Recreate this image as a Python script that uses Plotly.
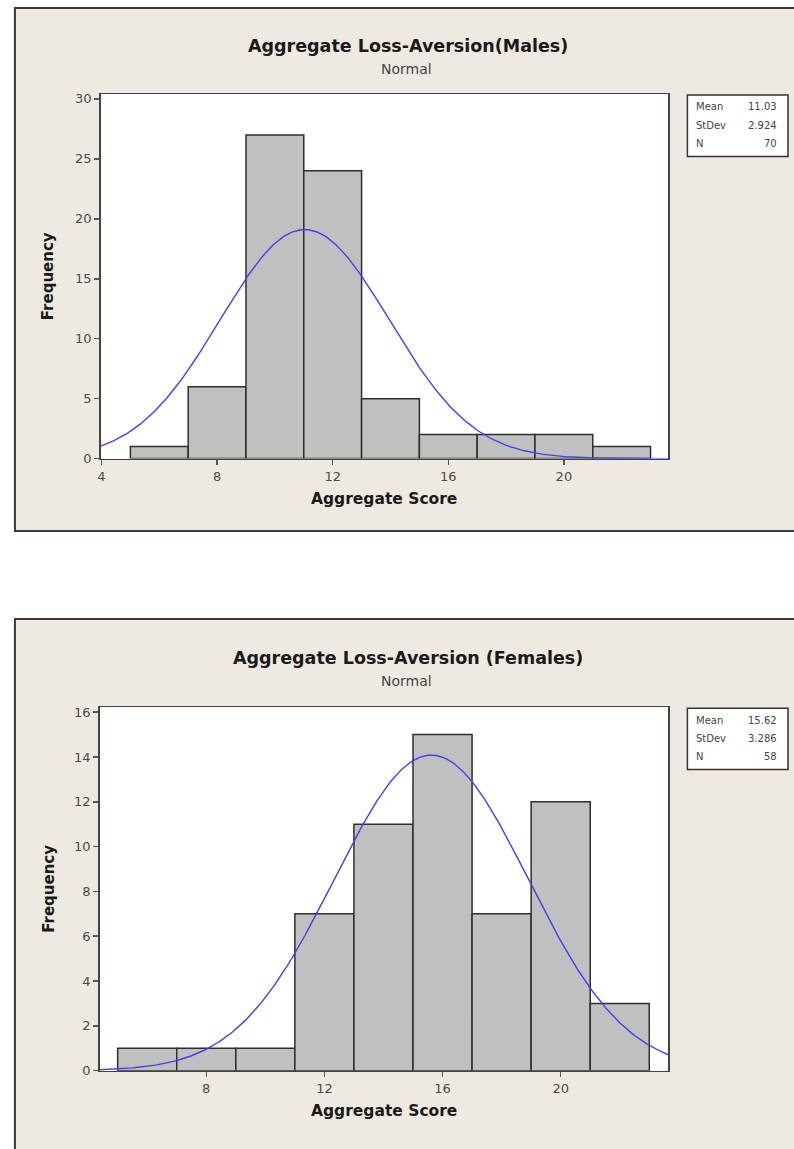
import numpy as np
import plotly.graph_objects as go

# ---------------- data ----------------
bin_left = [5, 7, 9, 11, 13, 15, 17, 19, 21]
bin_width = 2
male_counts = [1, 6, 27, 24, 5, 2, 2, 2, 1]
female_counts = [1, 1, 1, 7, 11, 15, 7, 12, 3]
male_stats = {"Mean": 11.03, "StDev": 2.924, "N": 70}
female_stats = {"Mean": 15.62, "StDev": 3.286, "N": 58}
male_title = "Aggregate Loss-Aversion(Males)"
female_title = "Aggregate Loss-Aversion (Females)"
male_xticks = [4, 8, 12, 16, 20]
female_xticks = [8, 12, 16, 20]
male_yticks = [0, 5, 10, 15, 20, 25, 30]
female_yticks = [0, 2, 4, 6, 8, 10, 12, 14, 16]

W, H = 794, 1149
FONT = "DejaVu Sans"
BEIGE = "#EFEAE1"

def px(x):
    return x / W

def py(y):
    return 1 - y / H

fig = go.Figure()

def normal_curve(stats, xr):
    xs = np.linspace(xr[0], xr[1], 400)
    m, s, n = stats["Mean"], stats["StDev"], stats["N"]
    ys = n * bin_width / (s * np.sqrt(2 * np.pi)) * np.exp(-0.5 * ((xs - m) / s) ** 2)
    return xs, ys

panels = [
    dict(counts=male_counts, stats=male_stats, title=male_title, xr=[3.97, 23.62], yr=[0, 30.4],
         xticks=male_xticks, yticks=male_yticks, plot=(98, 668, 92, 460), box=(12, 5, 820, 533),
         title_y=43, sub_y=67, xlab_y=501, leg=(687, 93, 788, 155), ax="", ),
    dict(counts=female_counts, stats=female_stats, title=female_title, xr=[4.39, 23.65], yr=[0, 16.22],
         xticks=female_xticks, yticks=female_yticks, plot=(97, 668, 711, 1078), box=(12, 622, 820, 1170),
         title_y=661, sub_y=685, xlab_y=1119, leg=(687, 712, 788, 774), ax="2"),
]

shapes = []
annotations = []
layout_axes = {}

for p in panels:
    ax = p["ax"]
    xa, ya = "x" + ax, "y" + ax
    bx0, by0, bx1, by1 = p["box"]
    shapes.append(dict(type="rect", xref="paper", yref="paper", x0=px(bx0), x1=px(bx1),
                       y0=py(by1), y1=py(by0), fillcolor=BEIGE, line=dict(color="#3a3a3a", width=2),
                       layer="below"))
    x0, x1, y0, y1 = p["plot"]
    shapes.append(dict(type="rect", xref="paper", yref="paper", x0=px(x0), x1=px(x1),
                       y0=py(y1), y1=py(y0), fillcolor="white", line=dict(width=0), layer="below"))
    fig.add_trace(go.Bar(x=bin_left, y=p["counts"], width=bin_width, offset=0,
                         marker=dict(color="#C0C0C0", line=dict(color="#2e2e2e", width=1.5)),
                         xaxis=xa, yaxis=ya, showlegend=False, hoverinfo="skip"))
    cx, cy = normal_curve(p["stats"], p["xr"])
    fig.add_trace(go.Scatter(x=cx, y=cy, mode="lines", line=dict(color="#4040F0", width=1.4),
                             xaxis=xa, yaxis=ya, showlegend=False, cliponaxis=True, hoverinfo="skip"))
    tf = dict(family=FONT, size=13, color="#4a4a4a")
    layout_axes["xaxis" + ax] = dict(domain=[px(x0), px(x1)], range=p["xr"], anchor=ya,
                                     tickvals=p["xticks"], ticks="outside", ticklen=5, tickwidth=1.5,
                                     tickcolor="#555", showline=True, linecolor="#444", linewidth=1.5,
                                     mirror=True, showgrid=False, zeroline=False, tickfont=tf)
    layout_axes["yaxis" + ax] = dict(domain=[py(y1), py(y0)], range=p["yr"], anchor=xa,
                                     tickvals=p["yticks"], ticks="outside", ticklen=5, tickwidth=1.5,
                                     tickcolor="#555", showline=True, linecolor="#444", linewidth=1.5,
                                     mirror=True, showgrid=False, zeroline=False, tickfont=tf)
    annotations.append(dict(text="<b>" + p["title"] + "</b>", x=px(407), y=py(p["title_y"]),
                            xref="paper", yref="paper", showarrow=False,
                            font=dict(family=FONT, size=17.5, color="#1a1a1a"), xanchor="center", yanchor="middle"))
    annotations.append(dict(text="Normal", x=px(405), y=py(p["sub_y"]), xref="paper", yref="paper",
                            showarrow=False, font=dict(family=FONT, size=14, color="#444"),
                            xanchor="center", yanchor="middle"))
    annotations.append(dict(text="<b>Aggregate Score</b>", x=px(382), y=py(p["xlab_y"]), xref="paper",
                            yref="paper", showarrow=False, font=dict(family=FONT, size=15.5, color="#1a1a1a"),
                            xanchor="center", yanchor="middle"))
    annotations.append(dict(text="<b>Frequency</b>", x=px(46), y=py((y0 + y1) / 2), xref="paper",
                            yref="paper", showarrow=False, textangle=-90,
                            font=dict(family=FONT, size=15, color="#1a1a1a"), xanchor="center", yanchor="middle"))
    lx0, ly0, lx1, ly1 = p["leg"]
    shapes.append(dict(type="rect", xref="paper", yref="paper", x0=px(lx0), x1=px(lx1),
                       y0=py(ly1), y1=py(ly0), fillcolor="white", line=dict(color="#333", width=1.5)))
    rows = [("Mean", f"{p['stats']['Mean']:.2f}"), ("StDev", f"{p['stats']['StDev']:.3f}"),
            ("N", str(p["stats"]["N"]))]
    for i, (k, v) in enumerate(rows):
        yy = ly0 + 12 + i * 18.5
        annotations.append(dict(text=k, x=px(lx0 + 7), y=py(yy), xref="paper", yref="paper",
                                showarrow=False, xanchor="left", yanchor="middle",
                                font=dict(family=FONT, size=10, color="#444")))
        annotations.append(dict(text=v, x=px(lx1 - 9), y=py(yy), xref="paper", yref="paper",
                                showarrow=False, xanchor="right", yanchor="middle",
                                font=dict(family=FONT, size=10, color="#444")))

fig.update_layout(width=W, height=H, margin=dict(l=0, r=0, t=0, b=0), paper_bgcolor="white",
                  plot_bgcolor="rgba(0,0,0,0)", shapes=shapes, annotations=annotations, bargap=0,
                  hovermode=False, **layout_axes)
fig.write_html("out.html", config={"displayModeBar": False, "staticPlot": True},
               post_script="document.body.style.margin='0';document.body.style.overflow='hidden';")
